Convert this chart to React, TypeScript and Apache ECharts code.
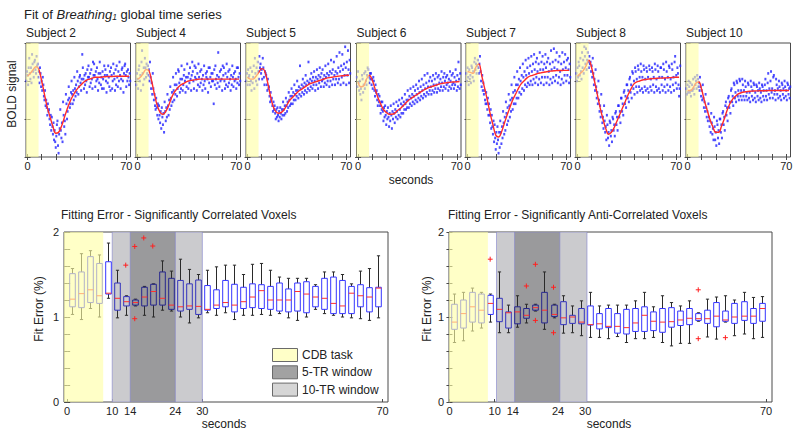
import React, { useEffect, useRef } from "react";
import * as echarts from "echarts";

const FONT = '"Liberation Sans", Arial, Helvetica, sans-serif';

// ---------- top row data ----------
const SUBJECTS = ["Subject 2", "Subject 4", "Subject 5", "Subject 6", "Subject 7", "Subject 8", "Subject 10"];
const TIMES = [0, 2, 4, 6, 8, 10, 12, 14, 16, 18, 20, 22, 24, 26, 28, 30, 32, 34, 36, 38, 40, 42, 44, 46, 48, 50, 52, 54, 56, 58, 60, 62, 64, 66, 68, 70, 72];
const RUN_OFFSETS = [-0.8, -0.4, 0, 0.4, 0.8];
const TOP_X_TICKS = [0, 10, 20, 30, 40, 50, 60, 70];
const TOP_X_LABELS = [0, 70];
const TOP_TASK = [-1.1, 7.8];

const FIT_S2 = [42.5, 44, 46, 47.5, 46, 40, 33, 26, 21, 16, 12.5, 13, 16, 20.5, 25, 29, 32, 34.5, 36.5, 38, 39.5, 40.5, 41, 41.5, 42, 42, 42, 42.2, 42.3, 42.4, 42.4, 42.5, 42.5, 42.5, 42.5, 42.5, 42.5];
const FIT_S4 = [41, 42, 44, 46, 45.5, 40, 33, 27, 23.5, 22.5, 24, 27, 31, 34, 36, 37.5, 38.5, 39.3, 40, 40.3, 40.6, 40.8, 41, 41, 41, 41, 41, 41, 41, 41, 41, 41, 41, 41, 41, 41, 41];
const FIT_S5 = [42, 41, 41, 42.5, 44.5, 46.5, 45.5, 40, 33, 27, 24, 23, 23.5, 25, 27.5, 30, 31.5, 33, 34.5, 35.5, 36.5, 37.5, 38.5, 39, 39.5, 40, 40.5, 41, 41.5, 41.8, 42, 42.3, 42.5, 42.7, 42.8, 43, 43];
const FIT_S6 = [39.5, 37, 37.5, 41, 43, 40.5, 36, 31.5, 28, 25, 23.5, 22.5, 22.5, 23, 24.5, 25.5, 27, 28.5, 30, 31, 32, 33, 34, 35, 35.8, 36.5, 37, 37.5, 38, 38.5, 38.8, 39, 39.2, 39.4, 39.5, 39.6, 39.7];
const FIT_S7 = [45, 44.5, 44, 47.5, 49, 43, 36.5, 30, 23, 17, 11.5, 10.5, 13, 17.5, 22, 26, 30, 33, 36, 38.5, 40, 41.5, 42.5, 43, 43.5, 44, 44.3, 44.6, 44.9, 45.1, 45.3, 45.4, 45.5, 45.5, 45.6, 45.6, 45.6];
const FIT_S8 = [42.5, 44, 45.5, 48, 51, 47, 40, 33, 26, 20, 15, 12, 13, 15.5, 19, 22.5, 26, 29.5, 33, 36, 38.5, 39.5, 40, 40.5, 40.8, 41, 41.2, 41.3, 41.4, 41.5, 41.5, 41.6, 41.7, 41.8, 41.9, 42, 42];
const FIT_S10 = [35, 35, 36.5, 39, 39.5, 35.5, 29.5, 24.5, 19.5, 15.8, 13, 13, 16, 20, 24.5, 28, 30.5, 32, 33.2, 33.8, 34.2, 34.4, 34.6, 34.7, 34.8, 34.8, 34.9, 34.9, 34.9, 35, 35, 35, 35, 35, 35, 35, 35];

const PTS_S2 = [
  [40, 45, 43, 38, 47], [52, 44, 41, 47, 39], [54, 49, 45, 42, 50], [51, 46, 44, 53, 48], [49, 42, 45, 39, 47],
  [44, 37, 40, 35, 42], [38, 32, 30, 35, 27], [30, 26, 22, 28, 24], [25, 20, 17, 22, 14], [21, 16, 12, 18, 9],
  [14, 8, 5, 11, 17], [19, 6, 2, 12, 15], [25, 14, 10, 18, 8], [29, 22, 16, 19, 12], [33, 28, 20, 24, 30],
  [37, 31, 26, 28, 34], [40, 33, 28, 35, 30], [42, 36, 32, 38, 34], [45, 40, 33, 37, 42], [43, 39, 35, 41, 54],
  [47, 41, 36, 43, 38], [44, 40, 34, 46, 42], [48, 42, 37, 44, 39], [46, 41, 36, 50, 43], [49, 43, 37, 45, 40],
  [47, 41, 35, 44, 39], [50, 44, 38, 42, 36], [45, 41, 36, 48, 43], [46, 40, 34, 43, 39], [48, 42, 37, 45, 35],
  [47, 43, 36, 40, 49], [44, 41, 35, 46, 38], [48, 42, 37, 45, 40], [50, 43, 36, 41, 46], [47, 40, 34, 44, 48],
  [49, 43, 37, 45, 40], [46, 42, 38, 44, 40],
];
const PTS_S4 = [
  [38, 44, 41, 36, 46], [48, 40, 43, 35, 50], [56, 44, 38, 47, 41], [52, 47, 42, 49, 44], [48, 43, 46, 40, 50],
  [42, 36, 39, 33, 44], [36, 30, 33, 27, 25], [31, 26, 22, 28, 20], [27, 22, 18, 24, 15], [26, 21, 17, 23, 13],
  [29, 24, 19, 26, 21], [33, 27, 22, 30, 25], [37, 31, 27, 34, 29], [42, 35, 30, 38, 33], [44, 38, 32, 36, 46],
  [45, 39, 34, 41, 36], [48, 41, 35, 38, 43], [46, 40, 34, 42, 37], [49, 42, 36, 44, 39], [47, 41, 35, 43, 50],
  [45, 40, 36, 48, 42], [47, 41, 35, 44, 38], [49, 42, 37, 45, 39], [46, 41, 35, 43, 38], [48, 40, 36, 44, 42],
  [45, 41, 34, 47, 39], [47, 42, 37, 44, 40], [44, 40, 28, 46, 38], [48, 41, 36, 43, 39], [55, 42, 37, 45, 40],
  [46, 41, 35, 48, 43], [47, 40, 36, 44, 38], [49, 42, 37, 45, 39], [46, 41, 35, 43, 38], [48, 42, 37, 44, 40],
  [45, 41, 36, 47, 39], [47, 42, 38, 44, 40],
];
const PTS_S5 = [
  [40, 44, 38, 46, 42], [43, 38, 47, 40, 35], [45, 39, 42, 48, 36], [52, 44, 40, 47, 38], [50, 45, 41, 53, 47],
  [49, 44, 46, 41, 52], [47, 42, 38, 45, 44], [43, 38, 35, 41, 36], [37, 32, 29, 34, 30], [31, 27, 24, 29, 25],
  [27, 23, 20, 25, 21], [26, 22, 19, 24, 21], [26, 23, 20, 25, 22], [29, 25, 22, 27, 23], [31, 27, 24, 29, 26],
  [34, 30, 27, 32, 28], [36, 32, 28, 34, 30], [38, 33, 30, 35, 32], [40, 35, 31, 37, 33], [48, 36, 32, 38, 34],
  [41, 37, 33, 39, 35], [43, 38, 34, 40, 36], [50, 39, 35, 41, 37], [44, 40, 36, 42, 38], [45, 40, 35, 42, 38],
  [46, 41, 36, 43, 39], [47, 42, 37, 44, 40], [46, 41, 37, 43, 39], [48, 42, 38, 44, 40], [49, 43, 37, 45, 40],
  [51, 44, 38, 46, 41], [50, 43, 38, 45, 41], [53, 44, 39, 47, 41], [55, 45, 38, 48, 42], [54, 46, 39, 49, 43],
  [58, 47, 38, 50, 43], [56, 46, 39, 51, 44],
];
const PTS_S6 = [
  [42, 37, 45, 39, 35], [40, 33, 36, 30, 43], [41, 34, 38, 44, 36], [45, 40, 38, 43, 47], [46, 42, 39, 44, 41],
  [44, 38, 41, 36, 42], [40, 35, 32, 38, 34], [35, 30, 27, 33, 29], [32, 27, 23, 29, 25], [29, 24, 19, 26, 21],
  [27, 22, 17, 24, 20], [26, 21, 16, 23, 19], [27, 22, 15, 24, 20], [28, 23, 18, 25, 21], [29, 24, 20, 27, 22],
  [30, 25, 21, 28, 23], [31, 27, 23, 29, 25], [33, 28, 25, 30, 26], [35, 30, 26, 32, 28], [36, 31, 27, 33, 29],
  [37, 32, 28, 35, 30], [38, 33, 29, 36, 31], [40, 34, 30, 37, 32], [41, 35, 31, 38, 33], [43, 36, 32, 39, 34],
  [44, 37, 33, 40, 35], [42, 37, 33, 40, 35], [43, 38, 34, 41, 36], [44, 38, 34, 42, 36], [43, 39, 35, 41, 37],
  [45, 39, 35, 42, 37], [44, 40, 36, 42, 38], [43, 39, 35, 41, 37], [45, 40, 36, 43, 38], [44, 39, 36, 42, 38],
  [46, 40, 35, 43, 37], [50, 41, 36, 44, 38],
];
const PTS_S7 = [
  [44, 40, 47, 42, 38], [46, 41, 43, 39, 48], [47, 42, 45, 40, 50], [52, 46, 49, 44, 48], [51, 47, 44, 49, 53],
  [45, 40, 37, 43, 35], [39, 33, 35, 30, 28], [34, 28, 25, 31, 22], [28, 22, 18, 25, 15], [22, 16, 12, 19, 8],
  [17, 10, 4, 13, 7], [16, 9, 2, 13, 5], [19, 13, 7, 16, 10], [24, 18, 12, 21, 14], [29, 23, 17, 26, 19],
  [33, 27, 21, 30, 24], [38, 31, 25, 34, 28], [42, 35, 28, 38, 31], [45, 38, 31, 41, 34], [47, 40, 33, 43, 36],
  [49, 42, 35, 45, 38], [51, 43, 37, 47, 39], [52, 44, 38, 48, 40], [53, 45, 38, 49, 41], [54, 46, 39, 50, 42],
  [52, 45, 38, 49, 41], [55, 46, 39, 50, 42], [53, 46, 38, 49, 42], [54, 47, 39, 50, 42], [52, 45, 38, 49, 41],
  [56, 46, 39, 50, 42], [57, 47, 40, 51, 43], [55, 46, 39, 50, 42], [53, 45, 38, 49, 41], [55, 46, 39, 50, 43],
  [54, 47, 40, 51, 43], [52, 46, 39, 49, 42],
];
const PTS_S8 = [
  [44, 40, 47, 42, 50], [48, 43, 52, 45, 41], [55, 47, 51, 44, 58], [53, 49, 57, 46, 51], [55, 50, 47, 53, 49],
  [50, 45, 48, 42, 52], [44, 38, 41, 35, 46], [37, 31, 34, 28, 40], [30, 24, 27, 21, 33], [24, 18, 21, 15, 27],
  [19, 13, 16, 9, 22], [17, 10, 13, 6, 19], [18, 11, 14, 8, 21], [20, 14, 17, 11, 23], [24, 17, 21, 14, 27],
  [27, 21, 24, 18, 31], [31, 24, 28, 22, 34], [35, 28, 32, 26, 38], [38, 31, 35, 29, 41], [42, 34, 38, 31, 45],
  [44, 36, 40, 33, 47], [45, 37, 41, 34, 48], [46, 37, 42, 35, 49], [45, 36, 42, 34, 48], [46, 37, 41, 35, 47],
  [45, 36, 42, 34, 48], [46, 37, 41, 35, 47], [45, 38, 42, 34, 49], [46, 37, 41, 35, 48], [45, 36, 42, 34, 47],
  [47, 38, 42, 35, 49], [46, 37, 41, 34, 50], [45, 38, 42, 35, 48], [47, 37, 41, 34, 49], [46, 38, 42, 35, 50],
  [53, 39, 43, 36, 47], [44, 38, 32, 36, 48],
];
const PTS_S10 = [
  [36, 33, 38, 34, 40], [37, 34, 39, 32, 35], [38, 35, 41, 36, 33], [42, 38, 40, 36, 43], [41, 37, 39, 35, 42],
  [37, 32, 35, 30, 38], [31, 26, 29, 24, 33], [26, 21, 24, 19, 28], [21, 16, 19, 13, 23], [18, 12, 15, 9, 21],
  [16, 9, 13, 6, 19], [17, 10, 14, 7, 20], [20, 13, 17, 10, 23], [24, 17, 21, 14, 27], [29, 22, 26, 19, 31],
  [32, 26, 29, 23, 35], [36, 29, 32, 27, 39], [38, 31, 34, 29, 40], [39, 32, 35, 30, 41], [40, 32, 35, 30, 41],
  [38, 32, 35, 30, 40], [37, 32, 34, 30, 39], [38, 31, 34, 29, 40], [37, 32, 35, 30, 39], [38, 31, 34, 29, 38],
  [37, 32, 35, 30, 39], [36, 31, 34, 29, 38], [37, 32, 35, 30, 38], [41, 32, 35, 30, 39], [44, 33, 36, 31, 40],
  [45, 34, 36, 31, 42], [43, 33, 35, 30, 41], [38, 33, 36, 31, 40], [37, 32, 35, 30, 39], [38, 33, 36, 31, 40],
  [37, 32, 35, 30, 39], [38, 33, 36, 31, 37],
];
const FITS = [FIT_S2, FIT_S4, FIT_S5, FIT_S6, FIT_S7, FIT_S8, FIT_S10];
const PTS = [PTS_S2, PTS_S4, PTS_S5, PTS_S6, PTS_S7, PTS_S8, PTS_S10];

// ---------- bottom row data ----------
const BOX_T = [1, 3, 5, 7, 9, 11, 13, 15, 17, 19, 21, 23, 25, 27, 29, 31, 33, 35, 37, 39, 41, 43, 45, 47, 49, 51, 53, 55, 57, 59, 61, 63, 65, 67, 69];
const BOTTOM_X_LABELS = [0, 10, 14, 24, 30, 70];

const CORR_MAX = [1.57, 1.745, 1.78, 1.73, 1.87, 1.55, 1.25, 1.21, 1.36, 1.39, 1.66, 1.54, 1.68, 1.56, 1.5, 1.55, 1.59, 1.61, 1.61, 1.5, 1.62, 1.63, 1.55, 1.47, 1.455, 1.455, 1.455, 1.38, 1.53, 1.53, 1.5, 1.39, 1.54, 1.57, 1.72];
const CORR_Q3 = [1.51, 1.53, 1.71, 1.63, 1.65, 1.4, 1.24, 1.2, 1.35, 1.385, 1.53, 1.455, 1.43, 1.39, 1.435, 1.37, 1.32, 1.43, 1.385, 1.35, 1.39, 1.38, 1.36, 1.4, 1.33, 1.4, 1.415, 1.36, 1.455, 1.47, 1.43, 1.36, 1.38, 1.345, 1.35];
const CORR_MED = [1.21, 1.275, 1.32, 1.25, 1.28, 1.22, 1.18, 1.17, 1.235, 1.3, 1.22, 1.14, 1.12, 1.13, 1.125, 1.09, 1.14, 1.17, 1.14, 1.18, 1.235, 1.31, 1.2, 1.2, 1.2, 1.3, 1.27, 1.235, 1.22, 1.16, 1.13, 1.28, 1.25, 1.235, 1.34];
const CORR_Q1 = [1.12, 1.11, 1.17, 1.16, 1.27, 1.08, 1.13, 1.14, 1.13, 1.14, 1.14, 1.09, 1.07, 1.09, 1.03, 1.08, 1.1, 1.12, 1.06, 1.1, 1.11, 1.1, 1.09, 1.07, 1.06, 1.07, 1.05, 1.12, 1.09, 1.04, 1.04, 1.04, 1.12, 1.06, 1.12];
const CORR_MIN = [1.03, 0.97, 1.1, 1.0, 1.22, 0.99, 1.02, 1.13, 1.02, 1.0, 1.08, 1.07, 1.0, 0.93, 0.99, 1.05, 1.02, 1.05, 0.97, 1.02, 1.02, 1.03, 1.02, 1.04, 0.99, 0.96, 1.0, 1.09, 1.04, 1.02, 1.0, 0.99, 0.98, 0.96, 0.99];
const CORR_OUT = [[13, 1.61], [15, 1.83], [15, 0.98], [17, 1.93], [19, 1.835]];
const CORR_TASK = [-0.7, 8];
const CORR_WIN10 = [10, 30];
const CORR_WIN5 = [14, 24];

const ANTI_MAX = [1.27, 1.29, 1.34, 1.29, 1.27, 1.53, 1.14, 1.25, 1.15, 1.15, 1.53, 1.15, 1.25, 1.13, 1.19, 1.29, 1.13, 1.14, 1.14, 1.14, 1.19, 1.29, 1.12, 1.25, 1.17, 1.13, 1.19, 1.05, 1.21, 1.235, 1.25, 1.2, 1.29, 1.23, 1.24];
const ANTI_Q3 = [1.15, 1.2, 1.29, 1.27, 1.255, 1.22, 1.06, 1.12, 1.1, 1.14, 1.29, 1.14, 1.18, 1.02, 1.1, 1.13, 1.04, 1.1, 1.04, 1.09, 1.1, 1.12, 1.06, 1.1, 1.11, 1.07, 1.1, 1.04, 1.08, 1.17, 1.07, 1.16, 1.18, 1.1, 1.16];
const ANTI_MED = [0.94, 1.04, 1.12, 1.08, 1.16, 1.09, 1.05, 1.06, 1.02, 1.11, 1.08, 1.03, 0.99, 1.0, 0.94, 0.91, 0.92, 0.89, 0.89, 0.875, 0.93, 1.02, 0.95, 0.94, 0.945, 0.965, 0.985, 0.98, 0.98, 1.01, 0.965, 1.0, 1.01, 1.01, 1.1];
const ANTI_Q1 = [0.855, 0.87, 0.94, 0.93, 1.03, 0.945, 0.87, 0.92, 0.985, 1.08, 0.93, 1.005, 0.91, 0.925, 0.92, 0.905, 0.86, 0.875, 0.81, 0.8, 0.83, 0.83, 0.84, 0.82, 0.88, 0.9, 0.91, 0.96, 0.925, 0.885, 0.95, 0.925, 0.96, 0.925, 0.95];
const ANTI_MIN = [0.7, 0.72, 0.835, 0.87, 0.94, 0.815, 0.815, 0.88, 0.93, 1.07, 0.855, 0.99, 0.81, 0.815, 0.78, 0.76, 0.76, 0.745, 0.77, 0.7, 0.745, 0.745, 0.76, 0.7, 0.66, 0.69, 0.69, 0.95, 0.765, 0.74, 0.94, 0.78, 0.8, 0.745, 0.76];
const ANTI_OUT = [[9, 1.68], [17, 1.365], [19, 1.62], [19, 0.96], [23, 1.35], [23, 0.815], [55, 1.32], [55, 0.745], [61, 0.757]];
const ANTI_TASK = [-0.1, 8.5];
const ANTI_WIN10 = [10.4, 30.4];
const ANTI_WIN5 = [14.4, 24.4];

const LEGEND_LABELS = ["CDB task", "5-TR window", "10-TR window"];

// ---------- layout / style ----------
const TOP_LEFTS = [26, 136, 246, 356.5, 466, 576, 686];
const TOP_W = 104.5;
const TOP_TOP = 43;
const TOP_H = 114;
const FRAME = "#4a4a4a";
const TXT = "#222";
const YELLOW_OVER = "rgba(255,255,165,0.62)";
const DARK_BAND = "#9a9a9c";
const LIGHT_BAND = "#cbcbce";
const BAND_EDGE = "rgba(130,130,205,0.6)";

export default function App() {
  const ref = useRef<HTMLDivElement>(null);
  useEffect(() => {
    if (!ref.current) return;
    const chart = echarts.init(ref.current, undefined, { renderer: "svg" });

    const grid: any[] = [];
    const xAxis: any[] = [];
    const yAxis: any[] = [];
    const series: any[] = [];

    const addFrame = (g: any, xmin: number, xmax: number, xTicks: number[], xLabels: number[], ymin: number, ymax: number, yInt: number, yLabels: boolean, xTop: boolean) => {
      const gi = grid.length;
      grid.push({ ...g, show: true, borderColor: FRAME, borderWidth: 1, backgroundColor: "transparent", containLabel: false });
      const tick = { inside: true, length: 3, lineStyle: { color: FRAME, width: 1 } };
      xAxis.push({
        gridIndex: gi, type: "value", min: xmin, max: xmax, position: "bottom",
        axisLine: { show: false }, splitLine: { show: false },
        axisTick: { ...tick, customValues: xTicks },
        axisLabel: { customValues: xLabels, fontSize: 11, color: TXT, fontFamily: FONT, margin: 3.5, showMinLabel: true, showMaxLabel: true },
      });
      xAxis.push({
        gridIndex: gi, type: "value", min: xmin, max: xmax, position: "top",
        axisLine: { show: false }, splitLine: { show: false },
        axisTick: { ...tick, show: xTop, customValues: xTicks },
        axisLabel: { show: false },
      });
      yAxis.push({
        gridIndex: gi, type: "value", min: ymin, max: ymax, interval: yInt, position: "left",
        axisLine: { show: false }, splitLine: { show: false }, axisTick: tick,
        axisLabel: yLabels
          ? { show: true, fontSize: 11, color: TXT, fontFamily: FONT, margin: 5, formatter: (v: number) => (Math.abs(v - Math.round(v)) < 1e-6 ? String(Math.round(v)) : "") }
          : { show: false },
      });
      yAxis.push({
        gridIndex: gi, type: "value", min: ymin, max: ymax, interval: yInt, position: "right",
        axisLine: { show: false }, splitLine: { show: false }, axisTick: tick, axisLabel: { show: false },
      });
      return gi;
    };

    const bandSeries = (gi: number, ranges: number[][], ymin: number, ymax: number, fills: string[], z: number, stroke?: string) => ({
      type: "custom", xAxisIndex: gi * 2, yAxisIndex: gi * 2, z, silent: true, clip: true,
      data: ranges.map((r, k) => [r[0], r[1], k]),
      renderItem: (_p: any, api: any) => {
        const a = api.coord([api.value(0), ymin]);
        const b = api.coord([api.value(1), ymax]);
        const k = api.value(2);
        return {
          type: "rect",
          shape: { x: a[0], y: b[1], width: b[0] - a[0], height: a[1] - b[1] },
          style: { fill: fills[k], stroke: stroke || "none", lineWidth: stroke ? 1 : 0 },
        };
      },
    });

    // ---- top panels ----
    SUBJECTS.forEach((_, k) => {
      const gi = addFrame({ left: TOP_LEFTS[k], top: TOP_TOP, width: TOP_W, height: TOP_H }, -1.1, 73, TOP_X_TICKS, TOP_X_LABELS, 0, 60, 20, false, true);
      const pts: number[][] = [];
      TIMES.forEach((t, i) => PTS[k][i].forEach((v, j) => pts.push([t + RUN_OFFSETS[j], v])));
      series.push({
        type: "scatter", xAxisIndex: gi * 2, yAxisIndex: gi * 2, z: 2, silent: true,
        symbol: "rect", symbolSize: [2, 2.6], itemStyle: { color: "#2222ff" }, data: pts,
      });
      series.push({
        type: "line", xAxisIndex: gi * 2, yAxisIndex: gi * 2, z: 3, silent: true, smooth: 0.4,
        symbol: "none", lineStyle: { color: "#ff2a2a", width: 1.4 },
        data: TIMES.map((t, i) => [t, FITS[k][i]]),
      });
      series.push(bandSeries(gi, [TOP_TASK], 0, 60, [YELLOW_OVER], 10));
    });

    // ---- bottom charts ----
    const boxSeries = (gi: number, mn: number[], q1: number[], md: number[], q3: number[], mx: number[], w5: number[], w10: number[]) => ({
      type: "custom", xAxisIndex: gi * 2, yAxisIndex: gi * 2, z: 4, silent: true, clip: true,
      data: BOX_T.map((t, i) => [t, mn[i], q1[i], md[i], q3[i], mx[i]]),
      renderItem: (_p: any, api: any) => {
        const t = api.value(0);
        const pMin = api.coord([t, api.value(1)]);
        const pQ1 = api.coord([t, api.value(2)]);
        const pMd = api.coord([t, api.value(3)]);
        const pQ3 = api.coord([t, api.value(4)]);
        const pMax = api.coord([t, api.value(5)]);
        const x = Math.round(pMin[0]) + 0.5;
        const hw = 2.8;
        const cw = 1.6;
        let boxColor = "#3535ff";
        if (t >= w5[0] && t <= w5[1]) boxColor = "#26268e";
        else if (t >= w10[0] && t <= w10[1]) boxColor = "#3434bd";
        const wk = { stroke: "#2a2a2a", lineWidth: 1 };
        return {
          type: "group",
          children: [
            { type: "line", shape: { x1: x, y1: pMax[1], x2: x, y2: pQ3[1] }, style: wk },
            { type: "line", shape: { x1: x, y1: pQ1[1], x2: x, y2: pMin[1] }, style: wk },
            { type: "line", shape: { x1: x - cw, y1: pMax[1], x2: x + cw, y2: pMax[1] }, style: wk },
            { type: "line", shape: { x1: x - cw, y1: pMin[1], x2: x + cw, y2: pMin[1] }, style: wk },
            { type: "rect", shape: { x: x - hw, y: pQ3[1], width: hw * 2, height: pQ1[1] - pQ3[1] }, style: { fill: "none", stroke: boxColor, lineWidth: 1 } },
            { type: "line", shape: { x1: x - hw, y1: pMd[1], x2: x + hw, y2: pMd[1] }, style: { stroke: "#ff3030", lineWidth: 1 } },
          ],
        };
      },
    });
    const outlierSeries = (gi: number, pts: number[][]) => ({
      type: "custom", xAxisIndex: gi * 2, yAxisIndex: gi * 2, z: 5, silent: true, clip: true,
      data: pts,
      renderItem: (_p: any, api: any) => {
        const p = api.coord([api.value(0), api.value(1)]);
        const s = 2.5;
        const st = { stroke: "#ff2020", lineWidth: 1 };
        return {
          type: "group",
          children: [
            { type: "line", shape: { x1: p[0] - s, y1: p[1], x2: p[0] + s, y2: p[1] }, style: st },
            { type: "line", shape: { x1: p[0], y1: p[1] - s, x2: p[0], y2: p[1] + s }, style: st },
          ],
        };
      },
    });

    const g1 = addFrame({ left: 64, top: 232, width: 324, height: 170 }, CORR_TASK[0], 71.2, BOTTOM_X_LABELS, BOTTOM_X_LABELS, 0, 2, 0.2, true, false);
    series.push(bandSeries(g1, [CORR_WIN10, CORR_WIN5], 0, 2, [LIGHT_BAND, DARK_BAND], 1, BAND_EDGE));
    series.push(boxSeries(g1, CORR_MIN, CORR_Q1, CORR_MED, CORR_Q3, CORR_MAX, CORR_WIN5, CORR_WIN10));
    series.push(outlierSeries(g1, CORR_OUT));
    series.push(bandSeries(g1, [CORR_TASK], 0, 2, [YELLOW_OVER], 10));

    const g2 = addFrame({ left: 449, top: 232, width: 323, height: 170 }, ANTI_TASK[0], 71.3, BOTTOM_X_LABELS, BOTTOM_X_LABELS, 0, 2, 0.2, true, false);
    series.push(bandSeries(g2, [ANTI_WIN10, ANTI_WIN5], 0, 2, [LIGHT_BAND, DARK_BAND], 1, BAND_EDGE));
    series.push(boxSeries(g2, ANTI_MIN, ANTI_Q1, ANTI_MED, ANTI_Q3, ANTI_MAX, ANTI_WIN5, ANTI_WIN10));
    series.push(outlierSeries(g2, ANTI_OUT));
    series.push(bandSeries(g2, [ANTI_TASK], 0, 2, [YELLOW_OVER], 10));

    // ---- texts ----
    const txt = (text: string, x: number, y: number, size: number, extra: any = {}) => ({
      type: "text", x, y, z: 100, silent: true,
      style: { text, fontSize: size, fontFamily: FONT, fill: TXT, align: "left", verticalAlign: "middle", ...extra },
    });
    const graphic: any[] = [
      {
        type: "text", x: 24, y: 13, z: 100, silent: true,
        style: {
          text: "{a|Fit of }{b|Breathing}{c|1}{a| global time series}",
          verticalAlign: "middle",
          rich: {
            a: { fontSize: 13, fontFamily: FONT, fill: TXT, lineHeight: 16, verticalAlign: "bottom" },
            b: { fontSize: 13, fontFamily: FONT, fill: TXT, fontStyle: "italic", lineHeight: 16, verticalAlign: "bottom" },
            c: { fontSize: 8.5, fontFamily: FONT, fill: TXT, fontStyle: "italic", lineHeight: 12, verticalAlign: "bottom" },
          },
        },
      },
      txt("BOLD signal", 12, 94, 12, { align: "center" }),
      txt("seconds", 411, 180, 12, { align: "center" }),
      txt("Fitting Error - Significantly Correlated Voxels", 61, 215, 12),
      txt("Fitting Error - Significantly Anti-Correlated Voxels", 448, 215, 12),
      txt("seconds", 224, 424, 12, { align: "center" }),
      txt("seconds", 609, 424, 12, { align: "center" }),
    ];
    graphic[1].rotation = Math.PI / 2;
    graphic.push({ ...txt("Fit Error (%)", 39, 309, 12, { align: "center" }), rotation: Math.PI / 2 });
    graphic.push({ ...txt("Fit Error (%)", 427, 309, 12, { align: "center" }), rotation: Math.PI / 2 });
    SUBJECTS.forEach((s, k) => graphic.push(txt(s, TOP_LEFTS[k], 33, 12)));
    const legendFill = ["#ffffc8", "#a2a2a2", "#d6d6d6"];
    LEGEND_LABELS.forEach((lab, k) => {
      const y = 348 + k * 17.3;
      graphic.push({ type: "rect", z: 100, silent: true, shape: { x: 272.5, y: y + 0.5, width: 25, height: 13 }, style: { fill: legendFill[k], stroke: "#6a6a6a", lineWidth: 1 } });
      graphic.push(txt(lab, 302, y + 7, 12));
    });

    chart.setOption({
      animation: false,
      backgroundColor: "#ffffff",
      textStyle: { fontFamily: FONT },
      grid, xAxis, yAxis, series, graphic,
    });
    return () => chart.dispose();
  }, []);
  return <div ref={ref} style={{ position: "absolute", left: 0, top: 0, width: 800, height: 435 }} />;
}
